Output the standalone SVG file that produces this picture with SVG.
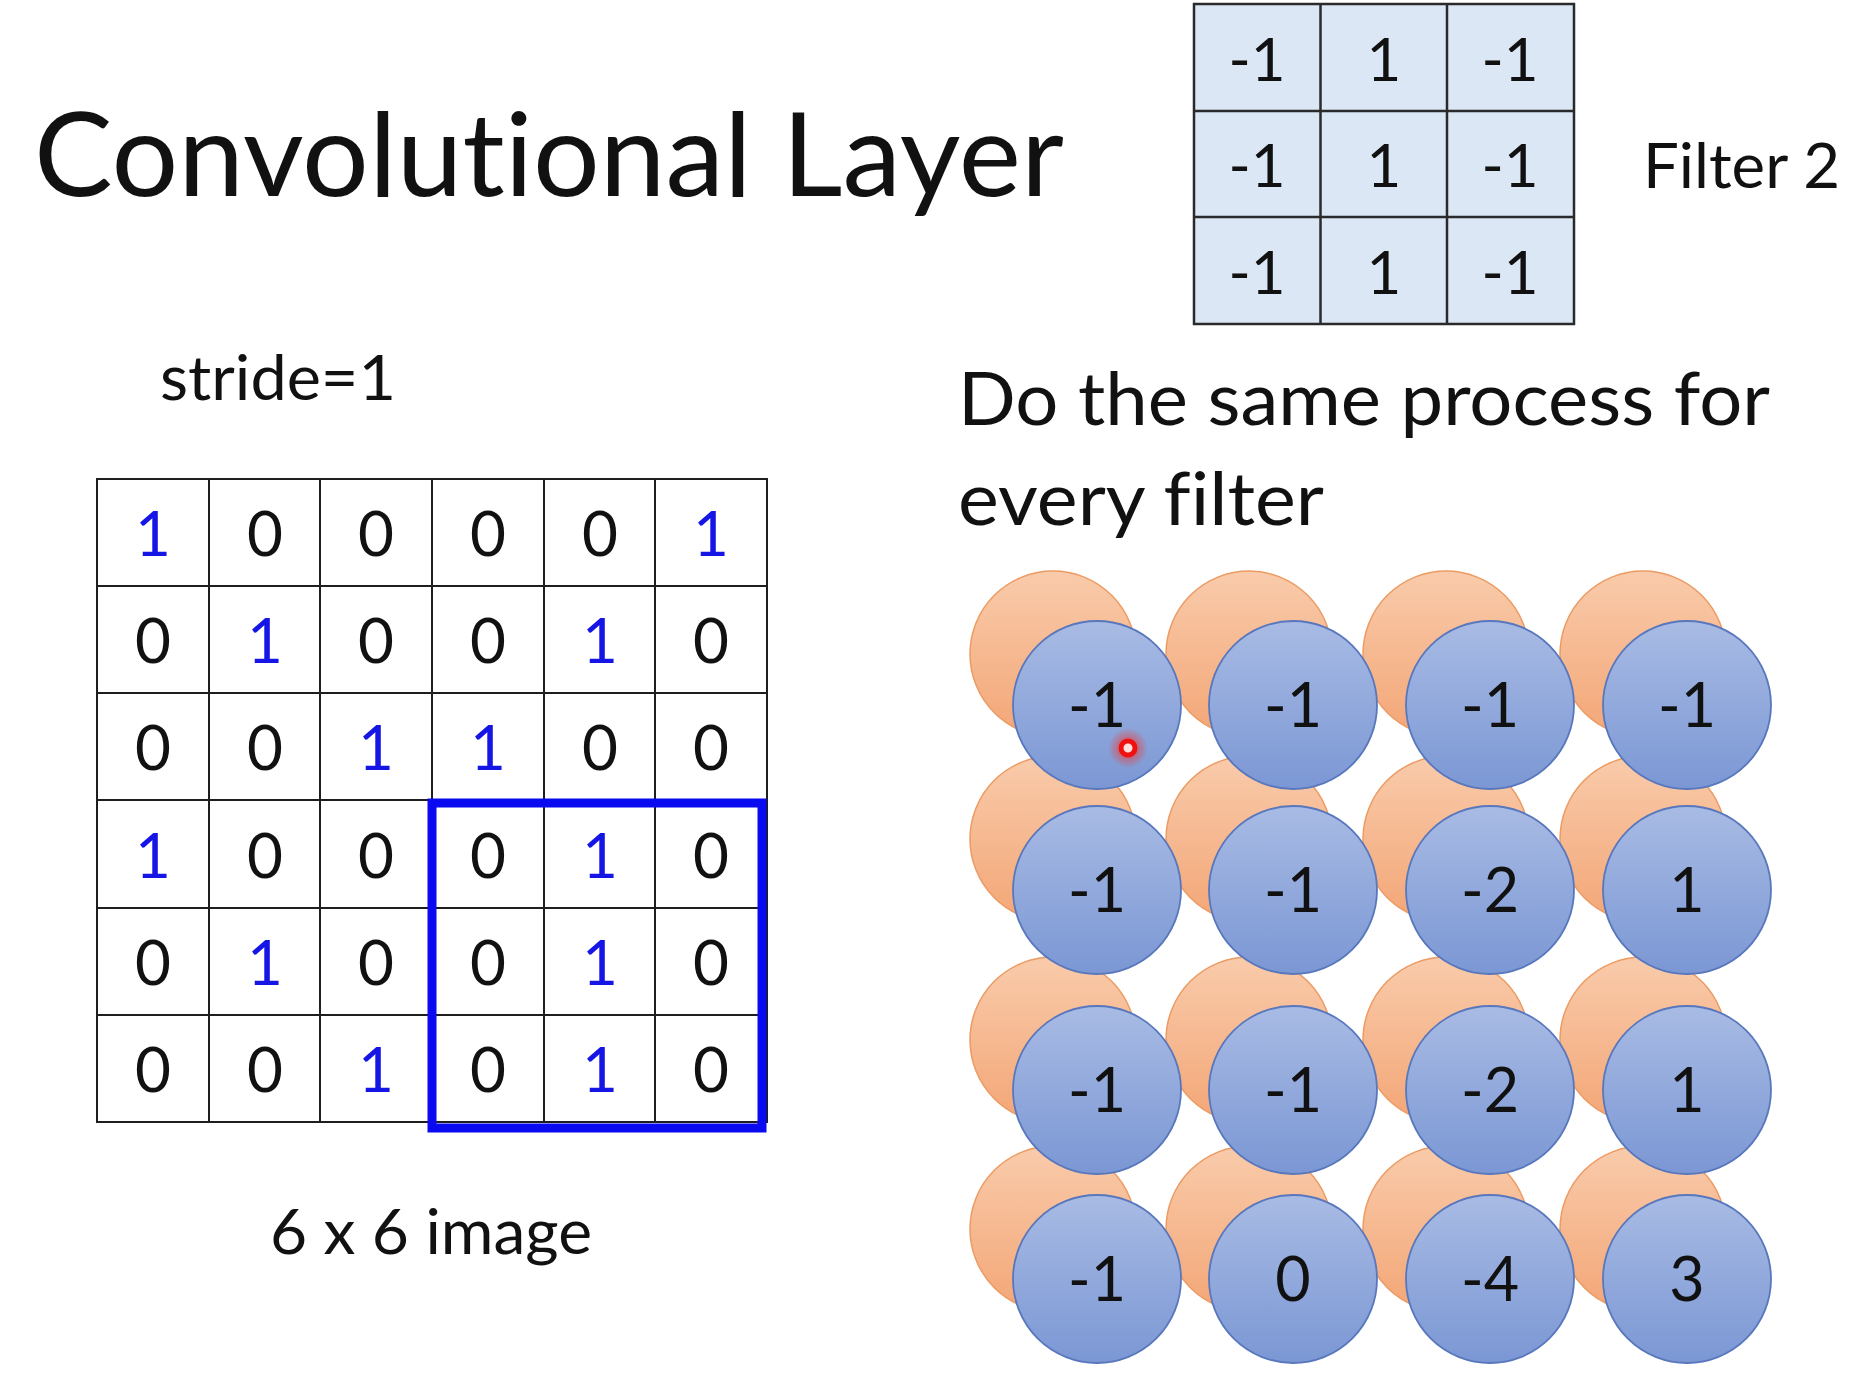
<svg xmlns="http://www.w3.org/2000/svg" width="1872" height="1386" viewBox="0 0 1872 1386">
<style>
text{font-family:Lato,"Open Sans","Liberation Sans",sans-serif;fill:#111;font-variant-ligatures:none;font-feature-settings:"liga" 0,"clig" 0}
.gl{stroke:#1e1e1e;stroke-width:2;fill:none}
.fl{stroke:#2a2a2a;stroke-width:2.5;fill:none}
.d{font-size:62px;text-anchor:middle}
.b{fill:#1515e6}
.fd{font-size:60px;text-anchor:middle}
.cd{font-size:61px;text-anchor:middle}
.or{fill:url(#og);stroke:#ec9b62;stroke-width:1.5}
.bl{fill:url(#bg);stroke:#5877bd;stroke-width:1.8}
</style>
<defs>
<linearGradient id="og" x1="0" y1="0" x2="0" y2="1"><stop offset="0" stop-color="#f9cbab"/><stop offset="1" stop-color="#f3a676"/></linearGradient>
<linearGradient id="bg" x1="0" y1="0" x2="0" y2="1"><stop offset="0" stop-color="#a8bbe4"/><stop offset="1" stop-color="#7b97d4"/></linearGradient>
<radialGradient id="glow"><stop offset="0.3" stop-color="#ff2a1a" stop-opacity="0.6"/><stop offset="1" stop-color="#ff2a1a" stop-opacity="0"/></radialGradient>
</defs>
<rect width="1872" height="1386" fill="#fff"/>

<g id="title"><text x="34" y="196" font-size="116" textLength="1030" lengthAdjust="spacingAndGlyphs">Convolutional Layer</text></g>

<g id="filter2">
<rect x="1194" y="4" width="380" height="320" fill="#dbe7f4"/>
<path class="fl" d="M1194 4H1574V324H1194Z M1320.5 4V324 M1447 4V324 M1194 111H1574 M1194 217H1574"/>
<text class="fd" x="1257" y="81">-1</text><text class="fd" x="1384" y="81">1</text><text class="fd" x="1510" y="81">-1</text>
<text class="fd" x="1257" y="187">-1</text><text class="fd" x="1384" y="187">1</text><text class="fd" x="1510" y="187">-1</text>
<text class="fd" x="1257" y="294">-1</text><text class="fd" x="1384" y="294">1</text><text class="fd" x="1510" y="294">-1</text>
</g>
<g id="filter2-label"><text x="1643" y="188" font-size="61" textLength="197" lengthAdjust="spacingAndGlyphs">Filter 2</text></g>

<g id="stride"><text x="160" y="400" font-size="62" textLength="236" lengthAdjust="spacingAndGlyphs">stride=1</text></g>

<g id="image6x6">
<path class="gl" d="M97 479H767V1122H97Z M209 479V1122 M320 479V1122 M432 479V1122 M544 479V1122 M655 479V1122 M97 586H767 M97 693H767 M97 800H767 M97 908H767 M97 1015H767"/>
<g class="d">
<text x="153" y="556" class="b">1</text><text x="265" y="556">0</text><text x="376" y="556">0</text><text x="488" y="556">0</text><text x="600" y="556">0</text><text x="711" y="556" class="b">1</text>
<text x="153" y="663">0</text><text x="265" y="663" class="b">1</text><text x="376" y="663">0</text><text x="488" y="663">0</text><text x="600" y="663" class="b">1</text><text x="711" y="663">0</text>
<text x="153" y="770">0</text><text x="265" y="770">0</text><text x="376" y="770" class="b">1</text><text x="488" y="770" class="b">1</text><text x="600" y="770">0</text><text x="711" y="770">0</text>
<text x="153" y="878" class="b">1</text><text x="265" y="878">0</text><text x="376" y="878">0</text><text x="488" y="878">0</text><text x="600" y="878" class="b">1</text><text x="711" y="878">0</text>
<text x="153" y="985">0</text><text x="265" y="985" class="b">1</text><text x="376" y="985">0</text><text x="488" y="985">0</text><text x="600" y="985" class="b">1</text><text x="711" y="985">0</text>
<text x="153" y="1092">0</text><text x="265" y="1092">0</text><text x="376" y="1092" class="b">1</text><text x="488" y="1092">0</text><text x="600" y="1092" class="b">1</text><text x="711" y="1092">0</text>
</g>
<rect x="432" y="803" width="330" height="325" fill="none" stroke="#0a0af0" stroke-width="9"/>
</g>
<g id="image-label"><text x="270" y="1254" font-size="62" textLength="322" lengthAdjust="spacingAndGlyphs">6 x 6 image</text></g>

<g id="note">
<text x="958" y="425" font-size="74" textLength="812" lengthAdjust="spacingAndGlyphs">Do the same process for</text>
<text x="958" y="525" font-size="74" textLength="366" lengthAdjust="spacingAndGlyphs">every filter</text>
</g>

<g id="feature-map-1">
<circle class="or" cx="1053" cy="654" r="83"/><circle class="or" cx="1249" cy="654" r="83"/><circle class="or" cx="1446" cy="654" r="83"/><circle class="or" cx="1643" cy="654" r="83"/>
<circle class="or" cx="1053" cy="839" r="83"/><circle class="or" cx="1249" cy="839" r="83"/><circle class="or" cx="1446" cy="839" r="83"/><circle class="or" cx="1643" cy="839" r="83"/>
<circle class="or" cx="1053" cy="1040" r="83"/><circle class="or" cx="1249" cy="1040" r="83"/><circle class="or" cx="1446" cy="1040" r="83"/><circle class="or" cx="1643" cy="1040" r="83"/>
<circle class="or" cx="1053" cy="1229" r="83"/><circle class="or" cx="1249" cy="1229" r="83"/><circle class="or" cx="1446" cy="1229" r="83"/><circle class="or" cx="1643" cy="1229" r="83"/>
</g>

<g id="feature-map-2">
<circle class="bl" cx="1097" cy="705" r="84"/><circle class="bl" cx="1293" cy="705" r="84"/><circle class="bl" cx="1490" cy="705" r="84"/><circle class="bl" cx="1687" cy="705" r="84"/>
<circle class="bl" cx="1097" cy="890" r="84"/><circle class="bl" cx="1293" cy="890" r="84"/><circle class="bl" cx="1490" cy="890" r="84"/><circle class="bl" cx="1687" cy="890" r="84"/>
<circle class="bl" cx="1097" cy="1090" r="84"/><circle class="bl" cx="1293" cy="1090" r="84"/><circle class="bl" cx="1490" cy="1090" r="84"/><circle class="bl" cx="1687" cy="1090" r="84"/>
<circle class="bl" cx="1097" cy="1279" r="84"/><circle class="bl" cx="1293" cy="1279" r="84"/><circle class="bl" cx="1490" cy="1279" r="84"/><circle class="bl" cx="1687" cy="1279" r="84"/>
<g class="cd">
<text x="1097" y="727">-1</text><text x="1293" y="727">-1</text><text x="1490" y="727">-1</text><text x="1687" y="727">-1</text>
<text x="1097" y="912">-1</text><text x="1293" y="912">-1</text><text x="1490" y="912">-2</text><text x="1687" y="912">1</text>
<text x="1097" y="1112">-1</text><text x="1293" y="1112">-1</text><text x="1490" y="1112">-2</text><text x="1687" y="1112">1</text>
<text x="1097" y="1301">-1</text><text x="1293" y="1301">0</text><text x="1490" y="1301">-4</text><text x="1687" y="1301">3</text>
</g>
</g>

<g id="pointer">
<circle cx="1128" cy="748" r="20" fill="url(#glow)"/>
<circle cx="1128" cy="748" r="7" fill="#fde0dc" stroke="#f01010" stroke-width="5"/>
</g>

<g id="connectors"/>
</svg>
